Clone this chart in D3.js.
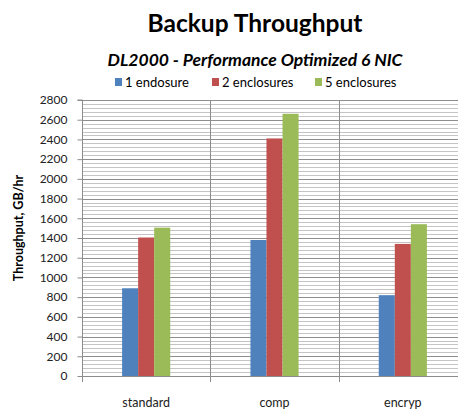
<!DOCTYPE html>
<html>
<head>
<meta charset="utf-8">
<script src="https://cdn.jsdelivr.net/npm/d3@7"></script>
<style>
  body { margin: 0; background: #fff; }
  svg { display: block; }
  text { font-family: Lato, "Open Sans", sans-serif; }
</style>
</head>
<body>
<div id="chart"></div>
<script>
const categories = ["standard", "comp", "encryp"]
const seriesNames = ["1 endosure", "2 enclosures", "5 enclosures"]
const seriesColors = ["#4f81bd", "#c0504d", "#9bbb59"]
const oneEnclosure = [890, 1380, 820]
const twoEnclosures = [1405, 2410, 1340]
const fiveEnclosures = [1505, 2660, 1540]
const yTicks = [0, 200, 400, 600, 800, 1000, 1200, 1400, 1600, 1800, 2000, 2200, 2400, 2600, 2800]

const values = [oneEnclosure, twoEnclosures, fiveEnclosures]

const width = 458, height = 415
const plot = {left: 82, right: 467, top: 100, bottom: 376}

const svg = d3.select("#chart").append("svg")
    .attr("width", width)
    .attr("height", height)

// titles
svg.append("text")
    .attr("x", 255).attr("y", 32)
    .attr("text-anchor", "middle")
    .attr("font-size", 24.5).attr("font-weight", "bold")
    .text("Backup Throughput")

svg.append("text")
    .attr("x", 255).attr("y", 66)
    .attr("text-anchor", "middle")
    .attr("font-size", 17.5).attr("font-weight", "bold").attr("font-style", "italic")
    .text("DL2000 - Performance Optimized 6 NIC")

// legend
const legendX = [115, 212, 315]
const legend = svg.append("g")
seriesNames.forEach((name, i) => {
    legend.append("rect")
        .attr("x", legendX[i]).attr("y", 78)
        .attr("width", 7).attr("height", 8)
        .attr("fill", seriesColors[i])
    legend.append("text")
        .attr("x", legendX[i] + 10).attr("y", 86.5)
        .attr("font-size", 13)
        .text(name)
})

let y = d3.scaleLinear()
    .domain([0, 2800])
    .range([plot.bottom, plot.top])

let x0 = d3.scaleBand()
    .domain(categories)
    .range([plot.left, plot.right])

let x1 = d3.scaleBand()
    .domain(d3.range(seriesNames.length))
    .range([0, x0.bandwidth()])
    .paddingOuter(2.5)

// minor grid every 40
const minor = d3.range(0, 2801, 40).filter(v => v % 200 !== 0)
svg.append("g").selectAll("line")
    .data(minor)
    .enter()
    .append("line")
    .attr("x1", plot.left).attr("x2", plot.right)
    .attr("y1", d => Math.round(y(d)) + 0.5).attr("y2", d => Math.round(y(d)) + 0.5)
    .attr("stroke", "#c4c4c4")

// major grid
svg.append("g").selectAll("line")
    .data(yTicks.slice(1))
    .enter()
    .append("line")
    .attr("x1", plot.left).attr("x2", plot.right)
    .attr("y1", d => Math.round(y(d)) + 0.5).attr("y2", d => Math.round(y(d)) + 0.5)
    .attr("stroke", "#8e8e8e")

// category separators
svg.append("g").selectAll("line")
    .data(categories.slice(1))
    .enter()
    .append("line")
    .attr("x1", d => Math.round(x0(d)) + 0.5).attr("x2", d => Math.round(x0(d)) + 0.5)
    .attr("y1", plot.top).attr("y2", plot.bottom + 6)
    .attr("stroke", "#8c8c8c")

// bars
svg.append("g").selectAll("g")
    .data(categories)
    .enter()
    .append("g")
    .attr("transform", d => "translate(" + x0(d) + ",0)")
    .selectAll("rect")
    .data((c, ci) => values.map((s, si) => ({si, v: s[ci]})))
    .enter()
    .append("rect")
    .attr("x", d => x1(d.si))
    .attr("y", d => y(d.v))
    .attr("width", x1.bandwidth())
    .attr("height", d => y(0) - y(d.v))
    .attr("fill", d => seriesColors[d.si])

// y axis
let yAxis = svg.append("g")
    .attr("transform", "translate(" + (plot.left + 0.5) + ",0)")
    .call(d3.axisLeft(y).tickValues(yTicks).tickFormat(d3.format("d")).tickSize(5).tickPadding(10))
yAxis.select(".domain").attr("stroke", "#8c8c8c").attr("d", "M-5," + y(2800) + "H0V" + (plot.bottom + 6) + "H0")
yAxis.selectAll(".tick line").attr("stroke", "#8c8c8c")
yAxis.selectAll(".tick text").attr("font-size", 12).attr("fill", "#222").attr("font-family", "Lato, sans-serif")

// x axis baseline
svg.append("line")
    .attr("x1", plot.left).attr("x2", plot.right)
    .attr("y1", plot.bottom + 0.5).attr("y2", plot.bottom + 0.5)
    .attr("stroke", "#8c8c8c")

svg.append("g").selectAll("text")
    .data(categories)
    .enter()
    .append("text")
    .attr("x", d => x0(d) + x0.bandwidth() / 2)
    .attr("y", 407)
    .attr("text-anchor", "middle")
    .attr("font-size", 12.5)
    .attr("fill", "#222")
    .text(d => d)

svg.append("text")
    .attr("transform", "translate(23,228) rotate(-90)")
    .attr("text-anchor", "middle")
    .attr("font-size", 12.5)
    .attr("font-weight", "bold")
    .attr("font-family", "DejaVu Sans, sans-serif")
    .text("Throughput, GB/hr")
</script>
</body>
</html>
